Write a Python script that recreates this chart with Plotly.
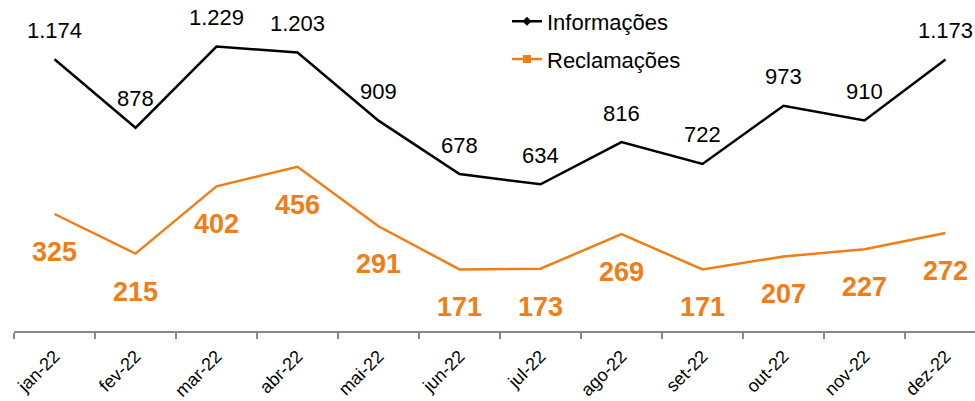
import plotly.graph_objects as go

months = ["jan-22", "fev-22", "mar-22", "abr-22", "mai-22", "jun-22",
          "jul-22", "ago-22", "set-22", "out-22", "nov-22", "dez-22"]
informacoes = [1174, 878, 1229, 1203, 909, 678, 634, 816, 722, 973, 910, 1173]
reclamacoes = [325, 215, 402, 456, 291, 171, 173, 269, 171, 207, 227, 272]

BLACK = "#000000"
ORANGE = "#F07D16"
AXIS = "#888888"
FONT = "Liberation Sans"


def fmt(v):
    return f"{v:,}".replace(",", ".")


fig = go.Figure()

# data lines
fig.add_trace(go.Scatter(x=months, y=informacoes, mode="lines",
                         line=dict(color=BLACK, width=2.5),
                         showlegend=False, yaxis="y"))
fig.add_trace(go.Scatter(x=months, y=reclamacoes, mode="lines",
                         line=dict(color=ORANGE, width=2.5),
                         showlegend=False, yaxis="y2"))

# legend entries (with markers as in the reference legend)
fig.add_trace(go.Scatter(x=[None], y=[None], mode="lines+markers", name="Informações",
                         line=dict(color=BLACK, width=2.5),
                         marker=dict(symbol="diamond", size=7, color=BLACK),
                         legendgroup="a"))
fig.add_trace(go.Scatter(x=[None], y=[None], mode="lines+markers", name="Reclamações",
                         line=dict(color=ORANGE, width=2.5),
                         marker=dict(symbol="square", size=8, color=ORANGE),
                         legendgroup="b"))

annotations = []
for m, v in zip(months, informacoes):
    annotations.append(dict(x=m, y=v, xref="x", yref="y", text=fmt(v),
                            showarrow=False, yshift=29,
                            font=dict(family=FONT, size=22, color=BLACK)))
for m, v in zip(months, reclamacoes):
    annotations.append(dict(x=m, y=v, xref="x", yref="y2", text=f"<b>{fmt(v)}</b>",
                            showarrow=False, yshift=-38,
                            font=dict(family=FONT, size=27, color=ORANGE)))

fig.update_layout(
    width=975, height=401,
    margin=dict(l=14, r=0, t=7, b=70),
    paper_bgcolor="white", plot_bgcolor="white",
    font=dict(family=FONT, color=BLACK),
    xaxis=dict(type="category", range=[-0.5, 11.364], showgrid=False,
               showline=True, linecolor=AXIS, linewidth=1.5,
               ticks="outside", tickson="boundaries", ticklen=6,
               tickcolor=AXIS, tickwidth=1.5, tickangle=-45,
               ticklabelstandoff=6,
               tickfont=dict(family=FONT, size=18, color=BLACK),
               automargin=False, zeroline=False),
    yaxis=dict(range=[0, 1400], visible=False, fixedrange=True),
    yaxis2=dict(range=[0, 900], visible=False, overlaying="y", side="right"),
    legend=dict(x=0.513, y=1.02, xanchor="left", yanchor="top",
                font=dict(family=FONT, size=22, color=BLACK),
                bgcolor="rgba(0,0,0,0)", tracegroupgap=6,
                traceorder="grouped"),
    annotations=annotations,
)

fig.write_html("out.html")
